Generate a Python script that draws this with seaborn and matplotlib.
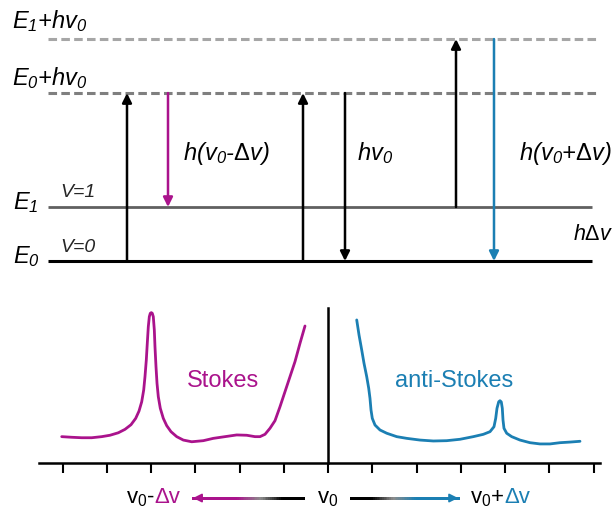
import numpy as np
import matplotlib
matplotlib.use("Agg")
import matplotlib.pyplot as plt
import seaborn as sns
import pandas as pd
from matplotlib.collections import LineCollection
from matplotlib.colors import to_rgb

# ---------------- data ----------------
# Energy levels (in units of the vibrational quantum hΔv)
level_E0 = 0.0
level_E1 = 1.0
photon_hv0 = 3.11
level_virtual0 = level_E0 + photon_hv0
level_virtual1 = level_E1 + photon_hv0

# Transitions: diagram position, start level, end level, kind
trans_x = [127, 168, 303, 345, 456, 494]
trans_from = [level_E0, level_virtual0, level_E0, level_virtual0, level_E1, level_virtual1]
trans_to = [level_virtual0, level_E1, level_virtual0, level_E0, level_virtual1, level_E0]
trans_kind = ["laser", "stokes", "laser", "rayleigh", "laser", "anti"]

# Spectrum: frequency shift (tick units, 0 = v0) and intensity
stokes_shift = [-6.018, -5.792, -5.566, -5.340, -5.114, -4.927, -4.739, -4.588,
                -4.452, -4.346, -4.271, -4.210, -4.165, -4.136, -4.106, -4.084,
                -4.061, -4.038, -4.016, -3.993, -3.971, -3.948, -3.925, -3.910,
                -3.887, -3.864, -3.835, -3.790, -3.722, -3.645, -3.548, -3.419,
                -3.270, -3.080, -2.818, -2.592, -2.328, -2.063, -1.837, -1.650,
                -1.537, -1.424, -1.311, -1.198, -1.085, -0.972, -0.859, -0.746,
                -0.633, -0.520]
stokes_int = [0.170, 0.166, 0.163, 0.163, 0.170, 0.179, 0.195, 0.217,
              0.247, 0.288, 0.335, 0.395, 0.471, 0.557, 0.665, 0.772,
              0.879, 0.944, 0.966, 0.970, 0.966, 0.944, 0.858, 0.750,
              0.621, 0.514, 0.428, 0.353, 0.288, 0.241, 0.202, 0.170,
              0.148, 0.137, 0.144, 0.159, 0.170, 0.181, 0.179, 0.170,
              0.170, 0.185, 0.224, 0.273, 0.363, 0.460, 0.557, 0.654,
              0.772, 0.884]

anti_shift = [0.649, 0.701, 0.762, 0.814, 0.875, 0.920, 0.949, 0.972, 1.001,
              1.062, 1.175, 1.327, 1.553, 1.779, 2.079, 2.380, 2.682, 2.983,
              3.284, 3.510, 3.661, 3.751, 3.790, 3.819, 3.858, 3.887, 3.916,
              3.939, 3.955, 3.977, 4.038, 4.151, 4.339, 4.565, 4.791, 5.017,
              5.243, 5.469, 5.695]
anti_int = [0.923, 0.826, 0.729, 0.643, 0.557, 0.482, 0.417, 0.342, 0.288,
            0.245, 0.213, 0.192, 0.170, 0.159, 0.148, 0.142, 0.144, 0.153,
            0.170, 0.185, 0.202, 0.234, 0.288, 0.353, 0.395, 0.402, 0.394,
            0.353, 0.277, 0.224, 0.192, 0.170, 0.148, 0.131, 0.123, 0.123,
            0.131, 0.135, 0.140]

tick_shifts = list(range(-6, 7))

# ---------------- style ----------------
MAGENTA = "#AA138C"
BLUE = "#1B7FB3"

sns.set_theme(style="white")
plt.rcParams["font.family"] = ["Liberation Sans", "DejaVu Sans"]
plt.rcParams["mathtext.fontset"] = "custom"
plt.rcParams["mathtext.rm"] = "Liberation Sans"
plt.rcParams["mathtext.it"] = "Liberation Sans:italic"
# slanted digits for the italic subscripts
plt.rcParams["mathtext.sf"] = "Liberation Sans:italic"

fig = plt.figure(figsize=(6.13, 5.17), dpi=100)

# ---------------- energy-level diagram ----------------
ax_top = fig.add_axes([0, 1 - 290 / 517, 1, 290 / 517])
ax_top.set_xlim(0, 613)
ax_top.set_ylim(-29 / 54, 261 / 54)
ax_top.axis("off")

x_left, x_right_dash, x_right = 48, 597, 592
dash = (0, (2.8, 1.4))
ax_top.plot([x_left, x_right_dash], [level_virtual1] * 2, color="#A6A6A6", lw=2.2, ls=dash)
ax_top.plot([x_left, x_right_dash], [level_virtual0] * 2, color="#7F7F7F", lw=2.2, ls=dash)
ax_top.plot([x_left, x_right], [level_E1] * 2, color="#606060", lw=2.0, solid_capstyle="butt")
ax_top.plot([x_left, x_right], [level_E0] * 2, color="black", lw=2.2, solid_capstyle="butt")

kind_color = {"laser": "black", "rayleigh": "black", "stokes": MAGENTA, "anti": BLUE}
for x, e0, e1, k in zip(trans_x, trans_from, trans_to, trans_kind):
    ax_top.annotate("", xy=(x, e1), xytext=(x, e0),
                    arrowprops=dict(arrowstyle="-|>", color=kind_color[k], lw=1.8,
                                    mutation_scale=14, shrinkA=0, shrinkB=0))

lab = dict(ha="left", va="baseline", fontsize=17, style="italic", color="black")
ax_top.text(12, 4.315, r"E$_\mathsf{1}$+hv$_\mathsf{0}$", **lab)
ax_top.text(12, 3.259, r"E$_\mathsf{0}$+hv$_\mathsf{0}$", **lab)
ax_top.text(13, 0.963, r"E$_\mathsf{1}$", **lab)
ax_top.text(13, -0.037, r"E$_\mathsf{0}$", **lab)
ax_top.text(60, 1.185, "V=1", ha="left", va="baseline", fontsize=14, style="italic")
ax_top.text(60, 0.167, "V=0", ha="left", va="baseline", fontsize=14, style="italic")
ax_top.text(183, 1.87, r"h(v$_\mathsf{0}$-$\mathrm{\Delta}$v)", **lab)
ax_top.text(357, 1.87, r"hv$_\mathsf{0}$", **lab)
ax_top.text(519, 1.87, r"h(v$_\mathsf{0}$+$\mathrm{\Delta}$v)", **lab)
ax_top.text(573, 0.389, r"h$\mathrm{\Delta}$v", ha="left", va="baseline",
            fontsize=15.5, style="italic", color="black")

# ---------------- Raman spectrum ----------------
ax = fig.add_axes([0, 0, 1, 227 / 517])
ax.set_xlim(-328 / 44.25, 285 / 44.25)
ax.set_ylim(-54 / 155, 173 / 155)
ax.patch.set_visible(False)

stokes_df = pd.DataFrame({"shift": stokes_shift, "intensity": stokes_int})
anti_df = pd.DataFrame({"shift": anti_shift, "intensity": anti_int})
line_kw = dict(lw=2.0, solid_joinstyle="round", solid_capstyle="round",
               sort=False, estimator=None, legend=False)
sns.lineplot(data=stokes_df, x="shift", y="intensity", color=MAGENTA, ax=ax, **line_kw)
sns.lineplot(data=anti_df, x="shift", y="intensity", color=BLUE, ax=ax, **line_kw)

for side in ("top", "right"):
    ax.spines[side].set_visible(False)
ax.spines["bottom"].set_position(("data", 0))
ax.spines["bottom"].set_bounds(-6.53, 6.15)
ax.spines["left"].set_position(("data", 0))
ax.spines["left"].set_bounds(0, 1.0)
for side in ("bottom", "left"):
    ax.spines[side].set_color("black")
    ax.spines[side].set_linewidth(1.8)
ax.set_xticks(tick_shifts)
ax.set_yticks([])
ax.tick_params(axis="x", bottom=True, direction="out", length=7.2, width=1.5,
               color="black", labelbottom=False)
ax.set_xlabel("")
ax.set_ylabel("")

ax.text(-2.37, 0.49, "Stokes", color=MAGENTA, fontsize=17, ha="center", va="baseline")
ax.text(2.84, 0.49, "anti-Stokes", color=BLUE, fontsize=17, ha="center", va="baseline")


def gradient_arrow(ax, x_start, x_end, y, color, n=60):
    xs = np.linspace(x_start, x_end, n + 1)
    segs = [[(xs[i], y), (xs[i + 1], y)] for i in range(n)]
    t = np.linspace(0, 1, n)
    black = np.zeros(3)
    gray = np.array([0.55, 0.55, 0.55])
    end = np.array(to_rgb(color))
    cols = []
    for ti in t:
        if ti < 0.2:
            c = black
        elif ti < 0.4:
            f = (ti - 0.2) / 0.2
            c = black * (1 - f) + gray * f
        elif ti < 0.62:
            f = (ti - 0.4) / 0.22
            c = gray * (1 - f) + end * f
        else:
            c = end
        cols.append(c)
    ax.add_collection(LineCollection(segs, colors=cols, linewidths=1.8,
                                     capstyle="projecting", antialiaseds=False))
    direction = np.sign(x_end - x_start)
    ax.annotate("", xy=(x_end, y), xytext=(x_end - direction * 0.25, y),
                arrowprops=dict(arrowstyle="-|>", color=color, lw=1.2,
                                mutation_scale=13, shrinkA=0, shrinkB=0))


y_lab = -0.258
y_arrow = -0.226
gradient_arrow(ax, -0.57, -3.05, y_arrow, MAGENTA)
gradient_arrow(ax, 0.52, 2.94, y_arrow, BLUE)

blab = dict(ha="left", va="baseline", fontsize=16)
t_left = ax.text(-4.57, y_lab, "v$_0$-", color="black", **blab)
ax.annotate("Δv", xy=(1, y_lab), xycoords=(t_left, "data"), color=MAGENTA, **blab)
ax.text(0.0, y_lab, "v$_0$", color="black", ha="center", va="baseline", fontsize=16)
t_right = ax.text(3.21, y_lab, "v$_0$+", color="black", **blab)
ax.annotate("Δv", xy=(1, y_lab), xycoords=(t_right, "data"), color=BLUE, **blab)

fig.savefig("out.png", dpi=100)
